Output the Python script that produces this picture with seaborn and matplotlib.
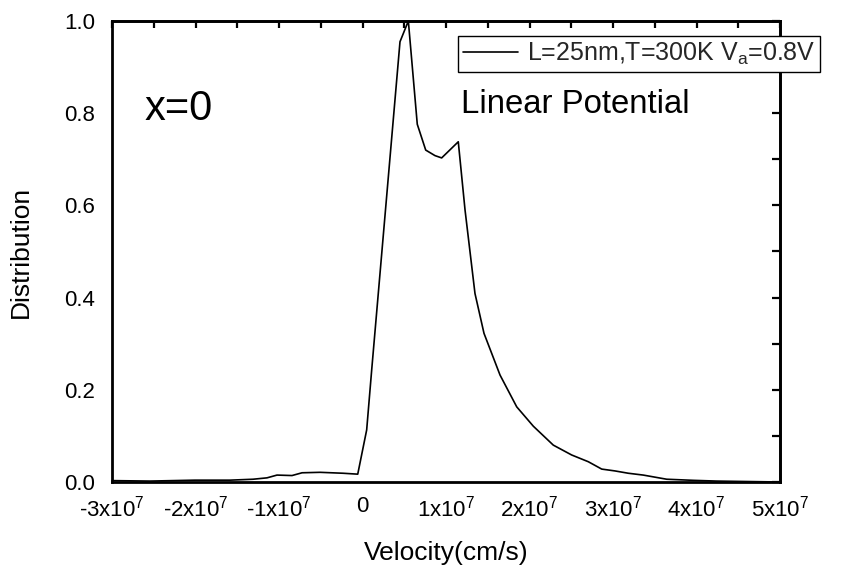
import matplotlib
matplotlib.use("Agg")
import matplotlib.pyplot as plt
import seaborn as sns
import numpy as np
import pandas as pd
from matplotlib.ticker import MultipleLocator, FixedLocator

# Velocity distribution at x=0 (L=25nm, T=300K, Va=0.8V, linear potential)
velocity = [-3.0e7, -2.545e7, -2.006e7, -1.587e7, -1.311e7, -1.144e7, -1.024e7,
            -0.844e7, -0.724e7, -0.509e7, -0.234e7, -0.057e7, 0.05e7, 0.11e7,
            0.449e7, 0.549e7, 0.656e7, 0.757e7, 0.868e7, 0.948e7, 1.147e7,
            1.228e7, 1.347e7, 1.455e7, 1.647e7, 1.847e7, 2.046e7, 2.285e7,
            2.505e7, 2.704e7, 2.865e7, 3.024e7, 3.183e7, 3.363e7, 3.643e7,
            3.962e7, 4.242e7, 5.0e7]
distribution = [0.003, 0.002, 0.004, 0.004, 0.006, 0.009, 0.015,
                0.014, 0.020, 0.021, 0.019, 0.017, 0.113, 0.243,
                0.955, 1.0, 0.776, 0.720, 0.708, 0.703, 0.738,
                0.590, 0.409, 0.3225, 0.232, 0.163, 0.121, 0.080,
                0.0586, 0.044, 0.028, 0.024, 0.019, 0.015, 0.006,
                0.0036, 0.002, 0.0]

x_ticks = [-3e7, -2e7, -1e7, 0, 1e7, 2e7, 3e7, 4e7, 5e7]
x_tick_labels = ["-3x10$^7$", "-2x10$^7$", "-1x10$^7$", "0", "1x10$^7$",
                 "2x10$^7$", "3x10$^7$", "4x10$^7$", "5x10$^7$"]
y_ticks = [0.0, 0.2, 0.4, 0.6, 0.8, 1.0]
y_tick_labels = ["0.0", "0.2", "0.4", "0.6", "0.8", "1.0"]
series_label = "L=25nm,T=300K V$_a$=0.8V"

sns.set_theme(style="white")
plt.rcParams["font.family"] = ["Liberation Sans", "DejaVu Sans"]
plt.rcParams["mathtext.default"] = "regular"
plt.rcParams["axes.unicode_minus"] = False

df = pd.DataFrame({"Velocity": velocity, "Distribution": distribution})

fig = plt.figure(figsize=(8.43, 5.75), dpi=100)
ax = fig.add_axes([112 / 843, 1 - 482 / 575, 668 / 843, 461 / 575])

sns.lineplot(data=df, x="Velocity", y="Distribution", ax=ax, color="black",
             linewidth=1.2, label=series_label, clip_on=False)

ax.set_xlim(-3e7, 5e7)
ax.set_ylim(0, 1.0)

ax.xaxis.set_major_locator(FixedLocator(x_ticks))
ax.set_xticklabels(x_tick_labels)
ax.xaxis.set_minor_locator(MultipleLocator(0.5e7))
ax.yaxis.set_major_locator(FixedLocator(y_ticks))
ax.set_yticklabels(y_tick_labels)
ax.yaxis.set_minor_locator(MultipleLocator(0.1))

for sp in ax.spines.values():
    sp.set_linewidth(2.0)
    sp.set_color("black")

ax.tick_params(axis="both", which="both", direction="out", top=False, right=False,
               colors="black", width=1.6, labelsize=16)
ax.tick_params(axis="x", which="both", length=6, pad=4)
ax.tick_params(axis="y", which="both", length=7, pad=5)

# inward ticks on the top and right frame, no labels
top = ax.secondary_xaxis("top")
top.xaxis.set_major_locator(FixedLocator(x_ticks))
top.xaxis.set_minor_locator(MultipleLocator(0.5e7))
top.tick_params(which="both", direction="in", length=5, width=1.6,
                labeltop=False, colors="black")
top.spines["top"].set_linewidth(2.0)

right = ax.secondary_yaxis("right")
right.yaxis.set_major_locator(FixedLocator(y_ticks))
right.yaxis.set_minor_locator(MultipleLocator(0.1))
right.tick_params(which="both", direction="in", length=6, width=1.6,
                  labelright=False, colors="black")
right.spines["right"].set_linewidth(2.0)

ax.set_xlabel("Velocity(cm/s)", fontsize=19, color="black", labelpad=14)
ax.set_ylabel("Distribution", fontsize=19, color="black", labelpad=23)

ax.text(0.049, 0.785, "x=0", transform=ax.transAxes, fontsize=30,
        color="black", ha="left", va="baseline")
ax.text(0.5225, 0.800, "Linear Potential", transform=ax.transAxes,
        fontsize=23.7, color="black", ha="left", va="baseline")

leg = ax.legend(loc="upper left", bbox_to_anchor=(0.518, 0.9675),
                borderaxespad=0, fontsize=18, frameon=True, fancybox=False,
                framealpha=1, edgecolor="black", borderpad=0.2,
                handlelength=2.2, handletextpad=0.35)
leg.get_frame().set_linewidth(1.0)

fig.savefig("out.png", dpi=100)
